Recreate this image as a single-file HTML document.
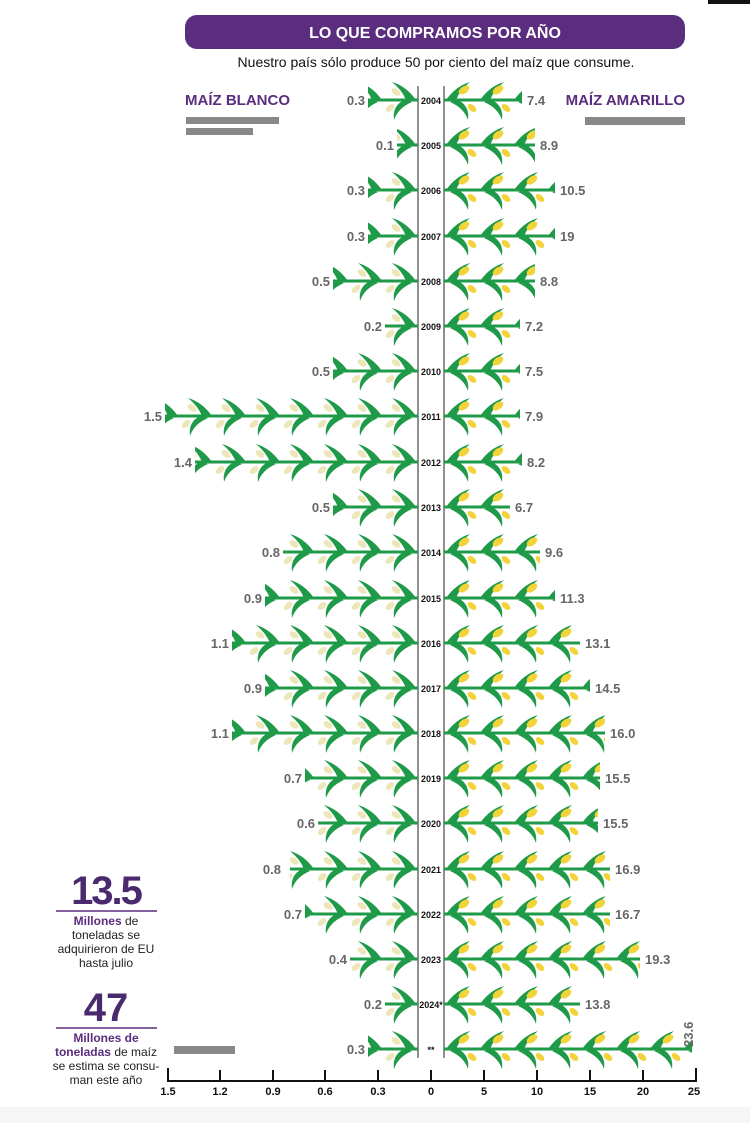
<!DOCTYPE html>
<html><head><meta charset="utf-8"><style>
body{margin:0;background:#fff;}
svg{display:block;font-family:"Liberation Sans",sans-serif;}
.yr{font-size:9px;font-weight:bold;fill:#111;text-anchor:middle}
.lv{font-size:13px;font-weight:bold;fill:#666;text-anchor:end}
.rv{font-size:13px;font-weight:bold;fill:#666}
.st{stroke:#1e9a48;stroke-width:3}
</style></head><body>
<svg width="750" height="1123" viewBox="0 0 750 1123" xmlns="http://www.w3.org/2000/svg">
<defs>
<pattern id="pr" patternUnits="userSpaceOnUse" x="444" y="-22" width="34" height="44">
 <path d="M2 22 Q12 8 26 4 Q16 12 12 22 Z" fill="#1e9a48"/>
 <path d="M14 22 Q26 28 24 42 Q20 30 6 24 Z" fill="#1e9a48"/>
 <ellipse cx="20" cy="12" rx="6" ry="3.5" transform="rotate(-35 20 12)" fill="#f3d33a"/>
 <ellipse cx="28" cy="30" rx="5" ry="3" transform="rotate(40 28 30)" fill="#f3d33a"/>
</pattern>
<pattern id="pl" patternUnits="userSpaceOnUse" x="418" y="-22" width="34" height="44">
 <path d="M32 22 Q22 8 8 4 Q18 12 22 22 Z" fill="#1e9a48"/>
 <path d="M20 22 Q8 28 10 42 Q14 30 28 24 Z" fill="#1e9a48"/>
 <ellipse cx="12" cy="14" rx="5" ry="3" transform="rotate(35 12 14)" fill="#ece6b8"/>
 <ellipse cx="6" cy="30" rx="5" ry="3" transform="rotate(-40 6 30)" fill="#ece6b8"/>
</pattern>
</defs>
<rect x="708" y="0" width="42" height="4" fill="#111"/>
<rect x="185" y="15" width="500" height="34" rx="12" fill="#5b2d7e"/>
<text x="435" y="38" text-anchor="middle" font-size="16" font-weight="bold" fill="#fff">LO QUE COMPRAMOS POR AÑO</text>
<text x="436" y="67" text-anchor="middle" font-size="14" fill="#111">Nuestro país sólo produce 50 por ciento del maíz que consume.</text>
<text x="185" y="105" font-size="15" font-weight="bold" fill="#5b2d7e">MAÍZ BLANCO</text>
<text x="685" y="105" text-anchor="end" font-size="15" font-weight="bold" fill="#5b2d7e">MAÍZ AMARILLO</text>
<rect x="186" y="117" width="93" height="7" fill="#888"/>
<rect x="186" y="128" width="67" height="7" fill="#888"/>
<rect x="585" y="117" width="100" height="8" fill="#888"/>
<line x1="418" y1="86" x2="418" y2="1058" stroke="#222" stroke-width="1"/>
<line x1="444" y1="86" x2="444" y2="1058" stroke="#222" stroke-width="1"/>

<g transform="translate(0,100)"><rect x="368" y="-22" width="50" height="44" fill="url(#pl)"/><line class="st" x1="368" y1="0" x2="418" y2="0"/><rect x="444" y="-22" width="78" height="44" fill="url(#pr)"/><line class="st" x1="444" y1="0" x2="522" y2="0"/><text class="yr" x="431" y="4">2004</text><text class="lv" x="365" y="5">0.3</text><text class="rv" x="527" y="5">7.4</text></g>
<g transform="translate(0,145)"><rect x="397" y="-22" width="21" height="44" fill="url(#pl)"/><line class="st" x1="397" y1="0" x2="418" y2="0"/><rect x="444" y="-22" width="91" height="44" fill="url(#pr)"/><line class="st" x1="444" y1="0" x2="535" y2="0"/><text class="yr" x="431" y="4">2005</text><text class="lv" x="394" y="5">0.1</text><text class="rv" x="540" y="5">8.9</text></g>
<g transform="translate(0,190)"><rect x="368" y="-22" width="50" height="44" fill="url(#pl)"/><line class="st" x1="368" y1="0" x2="418" y2="0"/><rect x="444" y="-22" width="111" height="44" fill="url(#pr)"/><line class="st" x1="444" y1="0" x2="555" y2="0"/><text class="yr" x="431" y="4">2006</text><text class="lv" x="365" y="5">0.3</text><text class="rv" x="560" y="5">10.5</text></g>
<g transform="translate(0,236)"><rect x="368" y="-22" width="50" height="44" fill="url(#pl)"/><line class="st" x1="368" y1="0" x2="418" y2="0"/><rect x="444" y="-22" width="111" height="44" fill="url(#pr)"/><line class="st" x1="444" y1="0" x2="555" y2="0"/><text class="yr" x="431" y="4">2007</text><text class="lv" x="365" y="5">0.3</text><text class="rv" x="560" y="5">19</text></g>
<g transform="translate(0,281)"><rect x="333" y="-22" width="85" height="44" fill="url(#pl)"/><line class="st" x1="333" y1="0" x2="418" y2="0"/><rect x="444" y="-22" width="91" height="44" fill="url(#pr)"/><line class="st" x1="444" y1="0" x2="535" y2="0"/><text class="yr" x="431" y="4">2008</text><text class="lv" x="330" y="5">0.5</text><text class="rv" x="540" y="5">8.8</text></g>
<g transform="translate(0,326)"><rect x="385" y="-22" width="33" height="44" fill="url(#pl)"/><line class="st" x1="385" y1="0" x2="418" y2="0"/><rect x="444" y="-22" width="76" height="44" fill="url(#pr)"/><line class="st" x1="444" y1="0" x2="520" y2="0"/><text class="yr" x="431" y="4">2009</text><text class="lv" x="382" y="5">0.2</text><text class="rv" x="525" y="5">7.2</text></g>
<g transform="translate(0,371)"><rect x="333" y="-22" width="85" height="44" fill="url(#pl)"/><line class="st" x1="333" y1="0" x2="418" y2="0"/><rect x="444" y="-22" width="76" height="44" fill="url(#pr)"/><line class="st" x1="444" y1="0" x2="520" y2="0"/><text class="yr" x="431" y="4">2010</text><text class="lv" x="330" y="5">0.5</text><text class="rv" x="525" y="5">7.5</text></g>
<g transform="translate(0,416)"><rect x="165" y="-22" width="253" height="44" fill="url(#pl)"/><line class="st" x1="165" y1="0" x2="418" y2="0"/><rect x="444" y="-22" width="76" height="44" fill="url(#pr)"/><line class="st" x1="444" y1="0" x2="520" y2="0"/><text class="yr" x="431" y="4">2011</text><text class="lv" x="162" y="5">1.5</text><text class="rv" x="525" y="5">7.9</text></g>
<g transform="translate(0,462)"><rect x="195" y="-22" width="223" height="44" fill="url(#pl)"/><line class="st" x1="195" y1="0" x2="418" y2="0"/><rect x="444" y="-22" width="78" height="44" fill="url(#pr)"/><line class="st" x1="444" y1="0" x2="522" y2="0"/><text class="yr" x="431" y="4">2012</text><text class="lv" x="192" y="5">1.4</text><text class="rv" x="527" y="5">8.2</text></g>
<g transform="translate(0,507)"><rect x="333" y="-22" width="85" height="44" fill="url(#pl)"/><line class="st" x1="333" y1="0" x2="418" y2="0"/><rect x="444" y="-22" width="66" height="44" fill="url(#pr)"/><line class="st" x1="444" y1="0" x2="510" y2="0"/><text class="yr" x="431" y="4">2013</text><text class="lv" x="330" y="5">0.5</text><text class="rv" x="515" y="5">6.7</text></g>
<g transform="translate(0,552)"><rect x="283" y="-22" width="135" height="44" fill="url(#pl)"/><line class="st" x1="283" y1="0" x2="418" y2="0"/><rect x="444" y="-22" width="96" height="44" fill="url(#pr)"/><line class="st" x1="444" y1="0" x2="540" y2="0"/><text class="yr" x="431" y="4">2014</text><text class="lv" x="280" y="5">0.8</text><text class="rv" x="545" y="5">9.6</text></g>
<g transform="translate(0,598)"><rect x="265" y="-22" width="153" height="44" fill="url(#pl)"/><line class="st" x1="265" y1="0" x2="418" y2="0"/><rect x="444" y="-22" width="111" height="44" fill="url(#pr)"/><line class="st" x1="444" y1="0" x2="555" y2="0"/><text class="yr" x="431" y="4">2015</text><text class="lv" x="262" y="5">0.9</text><text class="rv" x="560" y="5">11.3</text></g>
<g transform="translate(0,643)"><rect x="232" y="-22" width="186" height="44" fill="url(#pl)"/><line class="st" x1="232" y1="0" x2="418" y2="0"/><rect x="444" y="-22" width="136" height="44" fill="url(#pr)"/><line class="st" x1="444" y1="0" x2="580" y2="0"/><text class="yr" x="431" y="4">2016</text><text class="lv" x="229" y="5">1.1</text><text class="rv" x="585" y="5">13.1</text></g>
<g transform="translate(0,688)"><rect x="265" y="-22" width="153" height="44" fill="url(#pl)"/><line class="st" x1="265" y1="0" x2="418" y2="0"/><rect x="444" y="-22" width="146" height="44" fill="url(#pr)"/><line class="st" x1="444" y1="0" x2="590" y2="0"/><text class="yr" x="431" y="4">2017</text><text class="lv" x="262" y="5">0.9</text><text class="rv" x="595" y="5">14.5</text></g>
<g transform="translate(0,733)"><rect x="232" y="-22" width="186" height="44" fill="url(#pl)"/><line class="st" x1="232" y1="0" x2="418" y2="0"/><rect x="444" y="-22" width="161" height="44" fill="url(#pr)"/><line class="st" x1="444" y1="0" x2="605" y2="0"/><text class="yr" x="431" y="4">2018</text><text class="lv" x="229" y="5">1.1</text><text class="rv" x="610" y="5">16.0</text></g>
<g transform="translate(0,778)"><rect x="305" y="-22" width="113" height="44" fill="url(#pl)"/><line class="st" x1="305" y1="0" x2="418" y2="0"/><rect x="444" y="-22" width="156" height="44" fill="url(#pr)"/><line class="st" x1="444" y1="0" x2="600" y2="0"/><text class="yr" x="431" y="4">2019</text><text class="lv" x="302" y="5">0.7</text><text class="rv" x="605" y="5">15.5</text></g>
<g transform="translate(0,823)"><rect x="318" y="-22" width="100" height="44" fill="url(#pl)"/><line class="st" x1="318" y1="0" x2="418" y2="0"/><rect x="444" y="-22" width="154" height="44" fill="url(#pr)"/><line class="st" x1="444" y1="0" x2="598" y2="0"/><text class="yr" x="431" y="4">2020</text><text class="lv" x="315" y="5">0.6</text><text class="rv" x="603" y="5">15.5</text></g>
<g transform="translate(0,869)"><rect x="290" y="-22" width="128" height="44" fill="url(#pl)"/><line class="st" x1="290" y1="0" x2="418" y2="0"/><rect x="444" y="-22" width="166" height="44" fill="url(#pr)"/><line class="st" x1="444" y1="0" x2="610" y2="0"/><text class="yr" x="431" y="4">2021</text><text class="lv" x="281" y="5">0.8</text><text class="rv" x="615" y="5">16.9</text></g>
<g transform="translate(0,914)"><rect x="305" y="-22" width="113" height="44" fill="url(#pl)"/><line class="st" x1="305" y1="0" x2="418" y2="0"/><rect x="444" y="-22" width="166" height="44" fill="url(#pr)"/><line class="st" x1="444" y1="0" x2="610" y2="0"/><text class="yr" x="431" y="4">2022</text><text class="lv" x="302" y="5">0.7</text><text class="rv" x="615" y="5">16.7</text></g>
<g transform="translate(0,959)"><rect x="350" y="-22" width="68" height="44" fill="url(#pl)"/><line class="st" x1="350" y1="0" x2="418" y2="0"/><rect x="444" y="-22" width="196" height="44" fill="url(#pr)"/><line class="st" x1="444" y1="0" x2="640" y2="0"/><text class="yr" x="431" y="4">2023</text><text class="lv" x="347" y="5">0.4</text><text class="rv" x="645" y="5">19.3</text></g>
<g transform="translate(0,1004)"><rect x="385" y="-22" width="33" height="44" fill="url(#pl)"/><line class="st" x1="385" y1="0" x2="418" y2="0"/><rect x="444" y="-22" width="136" height="44" fill="url(#pr)"/><line class="st" x1="444" y1="0" x2="580" y2="0"/><text class="yr" x="431" y="4">2024*</text><text class="lv" x="382" y="5">0.2</text><text class="rv" x="585" y="5">13.8</text></g>
<g transform="translate(0,1049)"><rect x="368" y="-22" width="50" height="44" fill="url(#pl)"/><line class="st" x1="368" y1="0" x2="418" y2="0"/><rect x="444" y="-22" width="248" height="44" fill="url(#pr)"/><line class="st" x1="444" y1="0" x2="692" y2="0"/><text class="yr" x="431" y="4">**</text><text class="lv" x="365" y="5">0.3</text><text class="rv" transform="translate(693,-2) rotate(-90)">23.6</text></g>

<text x="106" y="904" text-anchor="middle" font-size="40" font-weight="bold" fill="#4a2a6e" letter-spacing="-2">13.5</text>
<line x1="56" y1="911" x2="157" y2="911" stroke="#5b2d7e" stroke-width="1.5"/>
<g font-size="12" text-anchor="middle" fill="#222">
<text x="106" y="925"><tspan fill="#5b2d7e" font-weight="bold">Millones</tspan> de</text>
<text x="106" y="939">toneladas se</text>
<text x="106" y="953">adquirieron de EU</text>
<text x="106" y="967">hasta julio</text>
</g>
<text x="106" y="1021" text-anchor="middle" font-size="40" font-weight="bold" fill="#4a2a6e">47</text>
<line x1="56" y1="1028" x2="157" y2="1028" stroke="#5b2d7e" stroke-width="1.5"/>
<g font-size="12" text-anchor="middle" fill="#222">
<text x="106" y="1042" fill="#5b2d7e" font-weight="bold">Millones de</text>
<text x="106" y="1056"><tspan fill="#5b2d7e" font-weight="bold">toneladas</tspan> de maíz</text>
<text x="106" y="1070">se estima se consu-</text>
<text x="106" y="1084">man este año</text>
</g>
<rect x="174" y="1046" width="61" height="8" fill="#888"/>
<g stroke="#111" stroke-width="2">
<line x1="167" y1="1081" x2="697" y2="1081"/>
<line x1="168" y1="1068" x2="168" y2="1081"/><line x1="220" y1="1070" x2="220" y2="1081"/>
<line x1="273" y1="1070" x2="273" y2="1081"/><line x1="325" y1="1070" x2="325" y2="1081"/>
<line x1="378" y1="1070" x2="378" y2="1081"/><line x1="431" y1="1070" x2="431" y2="1081"/>
<line x1="484" y1="1070" x2="484" y2="1081"/><line x1="537" y1="1070" x2="537" y2="1081"/>
<line x1="590" y1="1070" x2="590" y2="1081"/><line x1="643" y1="1070" x2="643" y2="1081"/>
<line x1="696" y1="1068" x2="696" y2="1081"/>
</g>
<g font-size="11" font-weight="bold" text-anchor="middle" fill="#111">
<text x="168" y="1095">1.5</text><text x="220" y="1095">1.2</text><text x="273" y="1095">0.9</text>
<text x="325" y="1095">0.6</text><text x="378" y="1095">0.3</text><text x="431" y="1095">0</text>
<text x="484" y="1095">5</text><text x="537" y="1095">10</text><text x="590" y="1095">15</text>
<text x="643" y="1095">20</text><text x="694" y="1095">25</text>
</g>
<rect x="0" y="1107" width="750" height="16" fill="#f6f6f6"/>
</svg>
</body></html>
